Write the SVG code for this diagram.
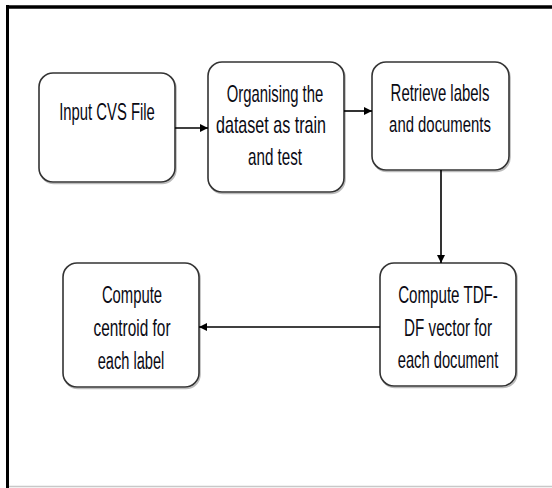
<svg xmlns="http://www.w3.org/2000/svg" width="552" height="488" viewBox="0 0 552 488">
  <defs>
    <marker id="arrow" viewBox="0 0 10 10" refX="10" refY="5" markerWidth="8" markerHeight="8" markerUnits="userSpaceOnUse" orient="auto">
      <path d="M0,0 L10,5 L0,10 Z" fill="#000"/>
    </marker>
    <style>
      .box { fill: #fff; stroke: #333; stroke-width: 1.6; }
      .shadow { fill: none; stroke: #bbb; stroke-width: 1.6; }
      .lbl { font-family: "Liberation Sans", Arial, sans-serif; font-size: 23px; fill: #0a0a14; text-anchor: middle; }
      .edge { stroke: #000; stroke-width: 1.6; fill: none; marker-end: url(#arrow); }
    </style>
  </defs>

  <!-- page background and frame -->
  <rect x="0" y="0" width="552" height="488" fill="#fff"/>
  <line x1="7.5" y1="5" x2="7.5" y2="488" stroke="#000" stroke-width="3"/>
  <line x1="6" y1="7" x2="552" y2="7" stroke="#000" stroke-width="3.5"/>
  <line x1="9" y1="486.5" x2="552" y2="486.5" stroke="#c8c8c8" stroke-width="1.5"/>

  <!-- labels use a horizontally condensed sans (scale 0.655 on x) -->
  <g id="node-input">
    <rect class="shadow" x="40" y="74.5" width="136" height="109" rx="14"/>
    <rect class="box" x="39" y="73" width="136" height="109" rx="14"/>
    <text class="lbl" transform="translate(107,120) scale(0.645,1)">Input CVS File</text>
  </g>

  <g id="node-organise">
    <rect class="shadow" x="209" y="63.5" width="136" height="130" rx="14"/>
    <rect class="box" x="208" y="62" width="136" height="130" rx="14"/>
    <text class="lbl" transform="translate(275,102) scale(0.645,1)">Organising the</text>
    <text class="lbl" transform="translate(271,133) scale(0.7,1)">dataset as train</text>
    <text class="lbl" transform="translate(275,165) scale(0.66,1)">and test</text>
  </g>

  <g id="node-retrieve">
    <rect class="shadow" x="373" y="63.5" width="137" height="108" rx="14"/>
    <rect class="box" x="372" y="62" width="137" height="108" rx="14"/>
    <text class="lbl" transform="translate(440,101) scale(0.65,1)">Retrieve labels</text>
    <text class="lbl" transform="translate(440,132) scale(0.648,1)">and documents</text>
  </g>

  <g id="node-tfidf">
    <rect class="shadow" x="381" y="264.5" width="136" height="123" rx="14"/>
    <rect class="box" x="380" y="263" width="136" height="123" rx="14"/>
    <text class="lbl" transform="translate(448,303) scale(0.658,1)">Compute TDF-</text>
    <text class="lbl" transform="translate(448,336) scale(0.662,1)">DF vector for</text>
    <text class="lbl" transform="translate(448,368) scale(0.64,1)">each document</text>
  </g>

  <g id="node-centroid">
    <rect class="shadow" x="64" y="264.5" width="136" height="124" rx="14"/>
    <rect class="box" x="63" y="263" width="136" height="124" rx="14"/>
    <text class="lbl" transform="translate(132,303) scale(0.645,1)">Compute</text>
    <text class="lbl" transform="translate(132,336) scale(0.67,1)">centroid for</text>
    <text class="lbl" transform="translate(131,369) scale(0.635,1)">each label</text>
  </g>

  <g id="connectors">
    <line class="edge" x1="175" y1="128" x2="208" y2="128"/>
    <line class="edge" x1="344" y1="111" x2="372" y2="111"/>
    <line class="edge" x1="441" y1="170" x2="441" y2="263"/>
    <line class="edge" x1="380" y1="327" x2="199" y2="327"/>
  </g>
</svg>
